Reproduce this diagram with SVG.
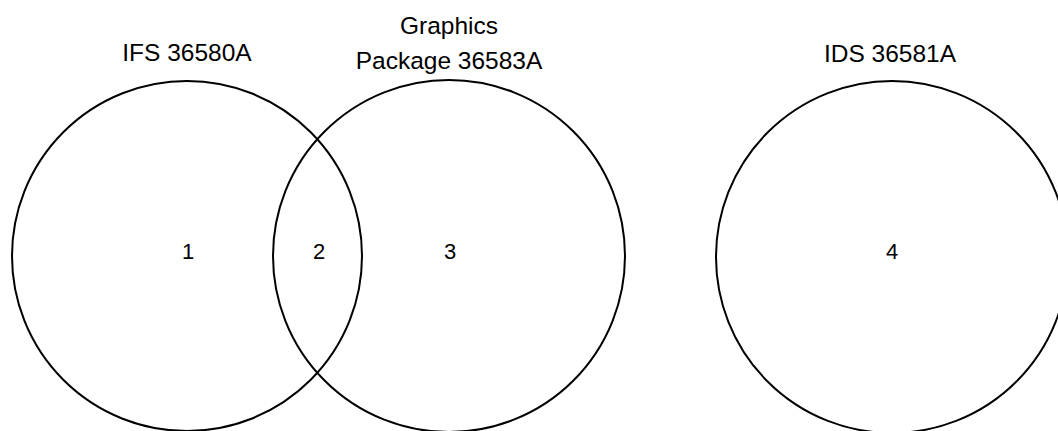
<svg xmlns="http://www.w3.org/2000/svg" width="1058" height="431" viewBox="0 0 1058 431">
<style>
.set{fill:none;stroke:#000;stroke-width:2}
.lbl{font-family:"Liberation Sans",Arial,sans-serif;font-size:24.5px;fill:#000;text-anchor:middle}
.num{font-family:"Liberation Sans",Arial,sans-serif;font-size:22px;fill:#000;text-anchor:middle}
</style>
<rect width="1058" height="431" fill="#fff"/>
<g id="ifs">
<circle class="set" cx="187" cy="256" r="175"/>
<text class="lbl" x="187" y="61">IFS 36580A</text>
</g>
<g id="graphics">
<circle class="set" cx="449" cy="256" r="176"/>
<text class="lbl" x="449" y="34">Graphics</text>
<text class="lbl" x="449" y="69">Package 36583A</text>
</g>
<g id="ids">
<circle class="set" cx="892" cy="257" r="176"/>
<text class="lbl" x="890" y="62">IDS 36581A</text>
</g>
<g id="regions">
<text class="num" x="188" y="259">1</text>
<text class="num" x="319" y="259">2</text>
<text class="num" x="450" y="259">3</text>
<text class="num" x="892" y="259">4</text>
</g>
<g id="connectors"/>
</svg>
